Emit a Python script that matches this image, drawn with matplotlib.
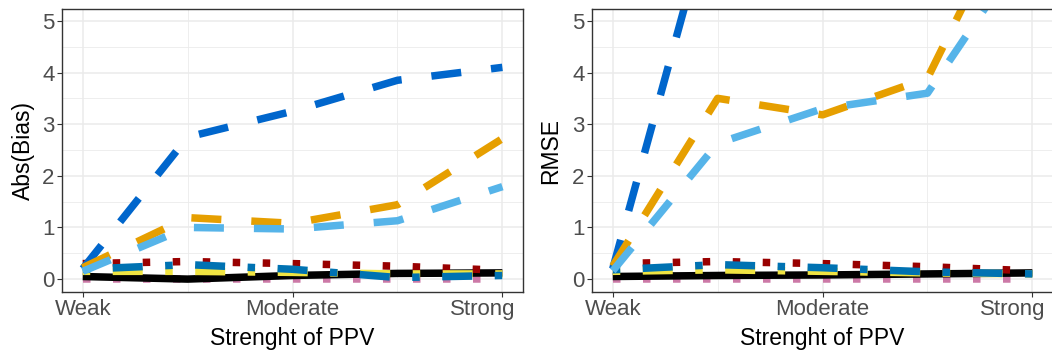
import matplotlib
matplotlib.use("Agg")
import matplotlib.pyplot as plt
from matplotlib.ticker import MultipleLocator
from matplotlib.transforms import ScaledTranslation

plt.rcParams['font.family'] = ['Liberation Sans', 'DejaVu Sans']

# strength of the PPV, five levels
strength = [1, 2, 3, 4, 5]
tick_pos = [1, 3, 5]
tick_labels = ['Weak', 'Moderate', 'Strong']

# Abs(Bias) per method
bias_pink = [0.0, 0.0, 0.0, 0.0, 0.0]
bias_black = [0.05, 0.0, 0.07, 0.11, 0.12]
bias_red = [0.3, 0.34, 0.3, 0.25, 0.17]
bias_yellow = [0.15, 0.15, 0.13, 0.1, 0.1]
bias_blue = [0.19, 0.28, 0.19, 0.03, 0.07]
bias_navy = [0.2, 2.75, 3.25, 3.85, 4.1]
bias_orange = [0.22, 1.19, 1.08, 1.44, 2.72]
bias_sky = [0.15, 1.0, 0.97, 1.13, 1.79]

# RMSE per method
rmse_pink = [0.0, 0.0, 0.0, 0.0, 0.0]
rmse_black = [0.05, 0.07, 0.08, 0.1, 0.12]
rmse_red = [0.3, 0.34, 0.3, 0.24, 0.16]
rmse_yellow = [0.15, 0.18, 0.15, 0.12, 0.1]
rmse_blue = [0.18, 0.28, 0.22, 0.14, 0.1]
rmse_navy = [0.2, 7.6, 9.0, 10.0, 11.0]
rmse_orange = [0.25, 3.5, 3.18, 3.89, 8.0]
rmse_sky = [0.16, 2.63, 3.3, 3.6, 6.6]

LW = 5.4
DASHED = (4, 4)
DOTTED = (1, 3)
DOTDASH = (1, 3, 4, 3)


def draw(fig, ax, pink, black, red, yellow, blue, navy, orange, sky, ylabel, ylab_x):
    ax.plot(strength, pink, color='#CC79A7', lw=LW, dashes=DOTTED, dash_capstyle='butt')
    ax.plot(strength, black, color='black', lw=LW, solid_capstyle='butt')
    ax.plot(strength, red, color='#990000', lw=LW, dashes=DOTTED, dash_capstyle='butt')
    ax.plot(strength, yellow, color='#F0E442', lw=LW, dashes=DOTDASH, dash_capstyle='butt')
    ax.plot(strength, blue, color='#0072B2', lw=LW, dashes=DOTDASH, dash_capstyle='butt')
    ax.plot(strength, navy, color='#0066CC', lw=LW, dashes=DASHED, dash_capstyle='butt')
    ax.plot(strength, orange, color='#E69F00', lw=LW, dashes=DASHED, dash_capstyle='butt')
    ax.plot(strength, sky, color='#56B4E9', lw=LW, dashes=DASHED, dash_capstyle='butt')

    ax.set_xlim(0.8, 5.2)
    ax.set_ylim(-0.25, 5.23)
    ax.set_xticks(tick_pos)
    ax.set_xticklabels(tick_labels)
    ax.xaxis.set_minor_locator(MultipleLocator(1))
    ax.yaxis.set_major_locator(MultipleLocator(1))
    ax.yaxis.set_minor_locator(MultipleLocator(0.5))
    ax.grid(which='major', color='#EBEBEB', lw=1.1)
    ax.grid(which='minor', color='#EBEBEB', lw=0.6)
    ax.set_axisbelow(True)
    ax.tick_params(which='major', length=3.6, width=0.8, color='#333333',
                   labelsize=16, labelcolor='#4D4D4D', pad=1.5)
    ax.tick_params(which='minor', length=0)
    for s in ax.spines.values():
        s.set_color('#333333')
        s.set_linewidth(1.0)

    # the last tick label sits a little to the left of its tick
    last = ax.get_xticklabels()[-1]
    last.set_transform(last.get_transform() + ScaledTranslation(-0.2, 0, fig.dpi_scale_trans))

    ax.set_xlabel('Strenght of PPV', fontsize=16.5)
    ax.xaxis.set_label_coords(0.5, -0.125)
    ax.set_ylabel(ylabel, fontsize=16.5)
    ax.yaxis.set_label_coords(ylab_x, 0.5)


fig = plt.figure(figsize=(10.52, 3.53), dpi=100)
ax1 = fig.add_axes([0.0587, 0.1728, 0.4388, 0.8017])
ax2 = fig.add_axes([0.5625, 0.1728, 0.4388, 0.8017])

draw(fig, ax1, bias_pink, bias_black, bias_red, bias_yellow, bias_blue,
     bias_navy, bias_orange, bias_sky, 'Abs(Bias)', -0.057)
draw(fig, ax2, rmse_pink, rmse_black, rmse_red, rmse_yellow, rmse_blue,
     rmse_navy, rmse_orange, rmse_sky, 'RMSE', -0.064)

fig.savefig('out.png', dpi=100)
